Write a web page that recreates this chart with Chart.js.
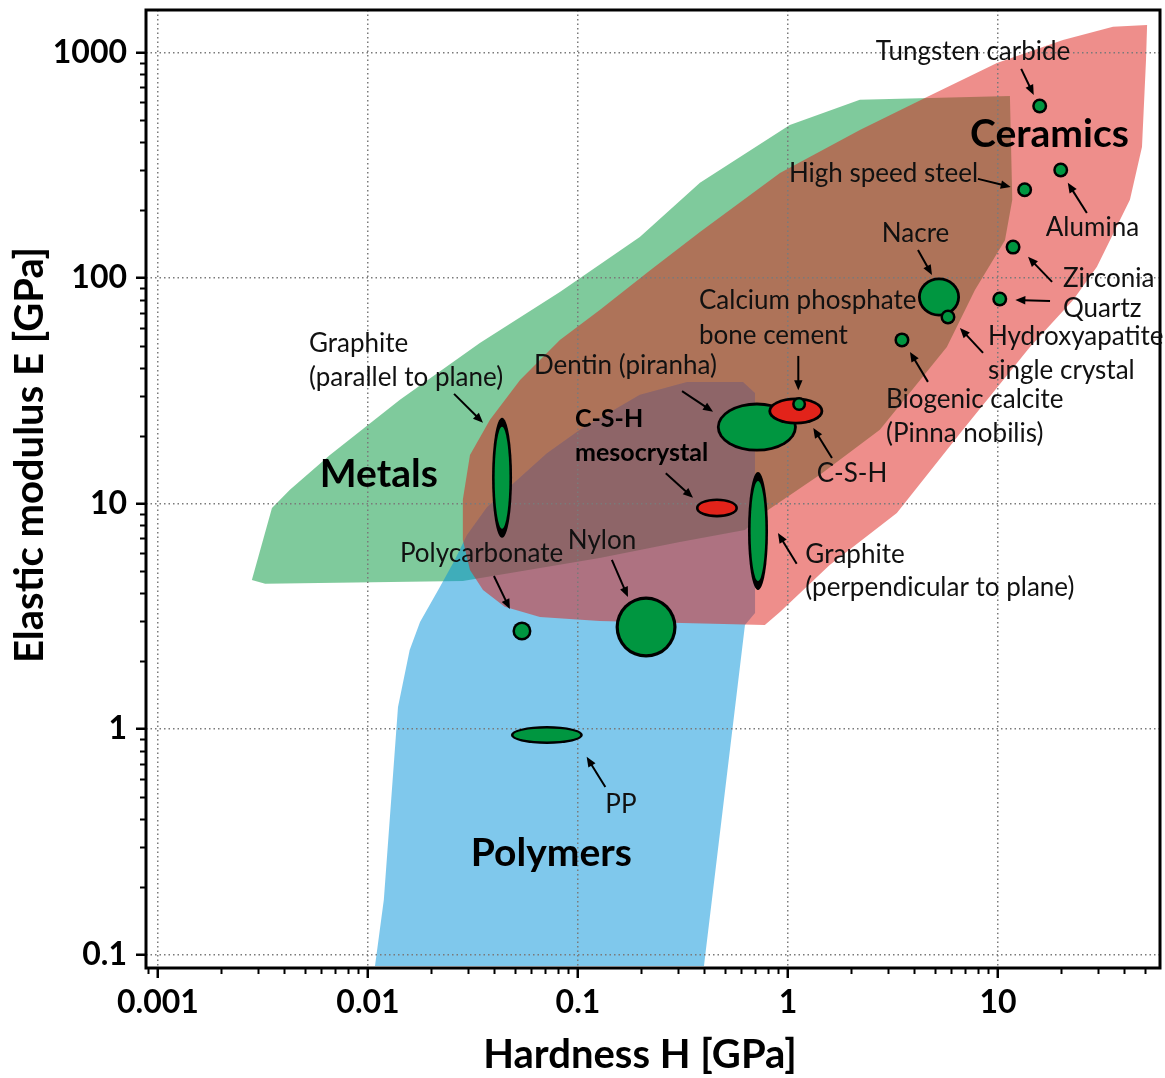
<!DOCTYPE html>
<html>
<head>
<meta charset="utf-8">
<title>Elastic modulus vs hardness</title>
<script src="https://cdn.jsdelivr.net/npm/chart.js@4.4.1/dist/chart.umd.min.js"></script>
<style>
  html, body { margin: 0; padding: 0; background: #fff; }
  canvas { display: block; }
</style>
</head>
<body>
<canvas id="chart" width="1165" height="1078"></canvas>
<script>
// ---- Property envelopes: hardness H [GPa] and elastic modulus E [GPa] ----
const metalsH = [0.00280, 0.00349, 0.00425, 0.00659, 0.0142, 0.0341, 0.0820, 0.197, 0.381, 1.02, 2.20, 11.4, 11.7, 10.8, 7.77, 5.71, 2.74, 1.42, 0.804, 0.624, 0.306, 0.127, 0.0283, 0.00324];
const metalsE = [4.58, 9.55, 11.5, 16.4, 28.8, 51.5, 86.7, 152, 264, 477, 616, 641, 222, 147, 88.5, 49.4, 21.2, 13.4, 9.36, 7.63, 6.75, 5.73, 4.53, 4.40];

const polymersH = [0.0108, 0.398, 0.624, 0.697, 0.697, 0.611, 0.330, 0.197, 0.102, 0.0711, 0.0369, 0.0296, 0.0259, 0.0220, 0.0177, 0.0158, 0.0139, 0.0119];
const polymersE = [0.089, 0.089, 2.89, 3.27, 30.9, 34.6, 34.6, 30.3, 21.2, 16.7, 9.65, 7.25, 5.62, 4.26, 2.98, 2.24, 1.25, 0.175];

const ceramicsH = [0.0283, 0.0283, 0.0306, 0.0381, 0.0530, 0.0820, 0.127, 0.220, 0.381, 0.916, 2.20, 4.59, 9.89, 20.4, 35.3, 51.3, 50.7, 48.5, 42.5, 29.6, 22.8, 14.2, 6.81, 3.30, 1.58, 0.916, 0.776, 0.127, 0.0659, 0.0448, 0.0353, 0.0306];
const ceramicsE = [6.89, 10.4, 16.4, 23.5, 35.3, 53.1, 72.1, 108, 160, 292, 453, 635, 898, 1136, 1298, 1324, 926, 381, 222, 112, 79.9, 49.4, 21.2, 9.08, 5.34, 3.30, 2.89, 3.01, 3.14, 3.48, 4.13, 5.07];

// ---- Individual materials ----
const materialNames = ['Tungsten carbide', 'High speed steel', 'Alumina', 'Zirconia', 'Quartz', 'Nacre',
  'Hydroxyapatite single crystal', 'Biogenic calcite (Pinna nobilis)', 'Dentin (piranha)', 'C-S-H',
  'Calcium phosphate bone cement', 'C-S-H mesocrystal', 'Graphite (perpendicular to plane)',
  'Graphite (parallel to plane)', 'Polycarbonate', 'Nylon', 'PP'];
const materialH = [15.8, 13.4, 19.9, 11.8, 10.2, 5.24, 5.78, 3.49, 0.711, 1.09, 1.13, 0.459, 0.720, 0.0435, 0.0541, 0.211, 0.0711];
const materialE = [579, 246, 301, 137, 80.7, 82.3, 67.1, 53.1, 21.8, 25.7, 27.6, 9.55, 7.55, 13.0, 2.72, 2.83, 0.940];

// ---- Axis ticks ----
const xTickValues = [0.001, 0.01, 0.1, 1, 10];
const xTickLabels = ['0.001', '0.01', '0.1', '1', '10'];
const yTickValues = [0.1, 1, 10, 100, 1000];
const yTickLabels = ['0.1', '1', '10', '100', '1000'];

// ---- Marker look: outer radii (px), outline thickness (px), fill ----
const GREEN = '#009640', RED = '#e2231a';
const markerLook = [
  [7.5, 7.5, 2.5, 2.5, GREEN], [7.5, 7.5, 2.5, 2.5, GREEN], [7.5, 7.5, 2.5, 2.5, GREEN],
  [7.5, 7.5, 2.5, 2.5, GREEN], [7.5, 7.5, 2.5, 2.5, GREEN], [21, 19.5, 2.8, 2.8, GREEN],
  [7.5, 7.5, 2.5, 2.5, GREEN], [7.5, 7.5, 2.5, 2.5, GREEN], [40, 24.5, 2.8, 2.8, GREEN],
  [27.5, 13.5, 2.8, 2.8, RED], [7, 7, 2.5, 2.5, GREEN], [21, 9.5, 2.6, 2.6, RED],
  [10, 59, 2.6, 9, GREEN], [10, 60, 2.6, 9, GREEN], [9.5, 9.5, 2.5, 2.5, GREEN],
  [30.5, 30.5, 3.2, 3.2, GREEN], [36, 9, 2.6, 2.6, GREEN]
];

// ---- Annotation layout (text anchored at left edge / vertical middle, in data units) ----
const textNotes = [
  ['Tungsten carbide', 2.62, 1005], ['High speed steel', 1.01, 289], ['Alumina', 16.9, 167],
  ['Nacre', 2.80, 158], ['Zirconia', 20.4, 99.0], ['Quartz', 20.4, 72.9],
  ['Calcium phosphate', 0.377, 79.1], ['bone cement', 0.377, 55.3],
  ['Hydroxyapatite', 8.96, 54.7], ['single crystal', 8.96, 38.7],
  ['Graphite', 0.00524, 51.0], ['(parallel to plane)', 0.00524, 36.0],
  ['Dentin (piranha)', 0.0617, 40.7], ['Biogenic calcite', 2.93, 28.8], ['(Pinna nobilis)', 2.93, 20.3],
  ['C-S-H', 1.37, 13.6], ['Polycarbonate', 0.0142, 5.97], ['Nylon', 0.0895, 6.82],
  ['Graphite', 1.21, 5.91], ['(perpendicular to plane)', 1.21, 4.22], ['PP', 0.135, 0.460]
];
const boldNotes = [
  ['C-S-H', 0.0968, 23.7, 25], ['mesocrystal', 0.0968, 16.7, 25],
  ['Ceramics', 7.36, 435, 39], ['Metals', 0.00590, 13.4, 39], ['Polymers', 0.0309, 0.282, 39]
];
// arrows: from (H, E) to (H, E)
const arrowNotes = [
  [12.9, 845, 14.8, 648], [8.03, 275, 11.5, 253], [26.5, 194, 21.5, 264], [18.1, 96.0, 13.9, 124],
  [17.7, 79.1, 12.1, 79.9], [4.16, 133, 4.85, 103], [8.49, 46.5, 6.59, 60.0], [4.64, 34.6, 3.81, 47.0],
  [1.12, 45.1, 1.12, 31.8], [0.313, 31.5, 0.440, 25.5], [1.62, 15.9, 1.32, 21.6], [0.262, 13.6, 0.353, 10.6],
  [0.0257, 30.6, 0.0353, 22.8], [1.10, 5.40, 0.896, 7.39], [0.0398, 4.77, 0.0474, 3.40],
  [0.145, 5.62, 0.173, 3.85], [0.135, 0.553, 0.110, 0.752]
];

const FONT = 'Lato';
const toPoints = (hs, es) => hs.map((h, i) => ({ x: h, y: es[i] }));

function envelope(label, hs, es, color, order) {
  return {
    label, data: toPoints(hs, es), showLine: true, fill: 'shape',
    backgroundColor: color, borderColor: 'transparent', borderWidth: 0,
    pointRadius: 0, tension: 0, order
  };
}

function minorTicks(scale) {
  const out = [];
  const lo = Math.floor(Math.log10(scale.min)), hi = Math.ceil(Math.log10(scale.max));
  for (let d = lo; d <= hi; d++) {
    for (let k = 2; k <= 9; k++) {
      const v = k * Math.pow(10, d);
      if (v > scale.min && v < scale.max) out.push(v);
    }
  }
  return out;
}

function arrow(ctx, x1, y1, x2, y2) {
  const ang = Math.atan2(y2 - y1, x2 - x1);
  const L = 10, W = 4.2;
  ctx.beginPath();
  ctx.moveTo(x1, y1);
  ctx.lineTo(x2 - L * 0.8 * Math.cos(ang), y2 - L * 0.8 * Math.sin(ang));
  ctx.stroke();
  ctx.beginPath();
  ctx.moveTo(x2, y2);
  ctx.lineTo(x2 - L * Math.cos(ang) + W * Math.sin(ang), y2 - L * Math.sin(ang) - W * Math.cos(ang));
  ctx.lineTo(x2 - L * Math.cos(ang) - W * Math.sin(ang), y2 - L * Math.sin(ang) + W * Math.cos(ang));
  ctx.closePath();
  ctx.fill();
}

const overlay = {
  id: 'overlay',
  afterDraw(chart) {
    const { ctx, chartArea: a } = chart;
    const xs = chart.scales.x, ys = chart.scales.y;
    ctx.save();

    // minor tick marks
    ctx.strokeStyle = '#000';
    ctx.lineWidth = 2;
    minorTicks(xs).forEach(v => {
      const px = Math.round(xs.getPixelForValue(v)) + 0.5;
      ctx.beginPath(); ctx.moveTo(px, a.bottom); ctx.lineTo(px, a.bottom + 6); ctx.stroke();
    });
    minorTicks(ys).forEach(v => {
      const py = Math.round(ys.getPixelForValue(v)) + 0.5;
      if (a.bottom - py < 4) return;
      ctx.beginPath(); ctx.moveTo(a.left, py); ctx.lineTo(a.left - 6, py); ctx.stroke();
    });

    // frame
    ctx.lineWidth = 3;
    ctx.strokeRect(a.left, a.top, a.right - a.left, a.bottom - a.top);

    // material markers
    const meta = chart.getDatasetMeta(3);
    meta.data.forEach((pt, i) => {
      const [rx, ry, sx, sy, fillCol] = markerLook[i];
      ctx.beginPath();
      ctx.ellipse(pt.x, pt.y, rx, ry, 0, 0, Math.PI * 2);
      ctx.fillStyle = '#000';
      ctx.fill();
      ctx.beginPath();
      ctx.ellipse(pt.x, pt.y, rx - sx, ry - sy, 0, 0, Math.PI * 2);
      ctx.fillStyle = fillCol;
      ctx.fill();
    });

    // arrows
    ctx.strokeStyle = '#000';
    ctx.fillStyle = '#000';
    ctx.lineWidth = 2;
    arrowNotes.forEach(([h1, e1, h2, e2]) => {
      arrow(ctx, xs.getPixelForValue(h1), ys.getPixelForValue(e1), xs.getPixelForValue(h2), ys.getPixelForValue(e2));
    });

    // text notes
    ctx.textAlign = 'left';
    ctx.textBaseline = 'middle';
    ctx.fillStyle = '#111';
    ctx.font = `26px ${FONT}`;
    textNotes.forEach(([t, h, e]) => ctx.fillText(t, xs.getPixelForValue(h), ys.getPixelForValue(e)));
    ctx.fillStyle = '#000';
    boldNotes.forEach(([t, h, e, s]) => {
      ctx.font = `bold ${s}px ${FONT}`;
      ctx.fillText(t, xs.getPixelForValue(h), ys.getPixelForValue(e));
    });

    // axis titles
    ctx.font = `bold 40px ${FONT}`;
    ctx.textAlign = 'center';
    ctx.fillText('Hardness H [GPa]', 640, 1055);
    ctx.translate(30, 455);
    ctx.rotate(-Math.PI / 2);
    ctx.fillText('Elastic modulus E [GPa]', 0, 0);
    ctx.restore();
  }
};

function labelFor(values, labels) {
  return v => {
    const i = values.findIndex(t => Math.abs(Math.log10(t) - Math.log10(v)) < 1e-6);
    return i >= 0 ? labels[i] : '';
  };
}

function axis(position, min, max, values, labels, fit) {
  return {
    type: 'logarithmic', position, min, max,
    afterBuildTicks: s => { s.ticks = values.map(v => ({ value: v, major: true })); },
    afterFit: s => {
      fit(s);
      s.paddingTop = 0; s.paddingBottom = 0; s.paddingLeft = 0; s.paddingRight = 0;
    },
    grid: {
      z: 1, color: '#7a7a7a', lineWidth: 1.5, drawTicks: true,
      tickLength: 10, tickColor: '#000', tickWidth: 2.5, tickBorderDash: []
    },
    border: { display: false, dash: [1.5, 3] },
    ticks: {
      autoSkip: false, maxRotation: 0, minRotation: 0, color: '#000',
      padding: position === 'left' ? 9 : 5,
      font: { family: FONT, size: 32, weight: 'bold' },
      callback: labelFor(values, labels)
    }
  };
}

function build() {
  new Chart(document.getElementById('chart'), {
    type: 'scatter',
    data: {
      datasets: [
        envelope('Ceramics', ceramicsH, ceramicsE, 'rgba(221, 29, 23, 0.5)', 1),
        envelope('Polymers', polymersH, polymersE, 'rgba(0, 145, 217, 0.5)', 2),
        envelope('Metals', metalsH, metalsE, 'rgba(0, 149, 57, 0.5)', 3),
        { label: 'Materials', data: toPoints(materialH, materialE), pointRadius: 0, showLine: false, order: 0 }
      ]
    },
    options: {
      responsive: false, animation: false, events: [],
      layout: { padding: { top: 10, right: 5, left: 0, bottom: 0 } },
      plugins: { legend: { display: false }, tooltip: { enabled: false } },
      scales: {
        x: axis('bottom', 0.000877, 59.1, xTickValues, xTickLabels, s => { s.height = 110; }),
        y: axis('left', 0.0871, 1542, yTickValues, yTickLabels, s => { s.width = 146; })
      }
    },
    plugins: [overlay]
  });
}

if (document.fonts && document.fonts.load) {
  Promise.all([document.fonts.load(`26px ${FONT}`), document.fonts.load(`bold 32px ${FONT}`)])
    .then(build, build);
} else {
  build();
}
</script>
</body>
</html>
